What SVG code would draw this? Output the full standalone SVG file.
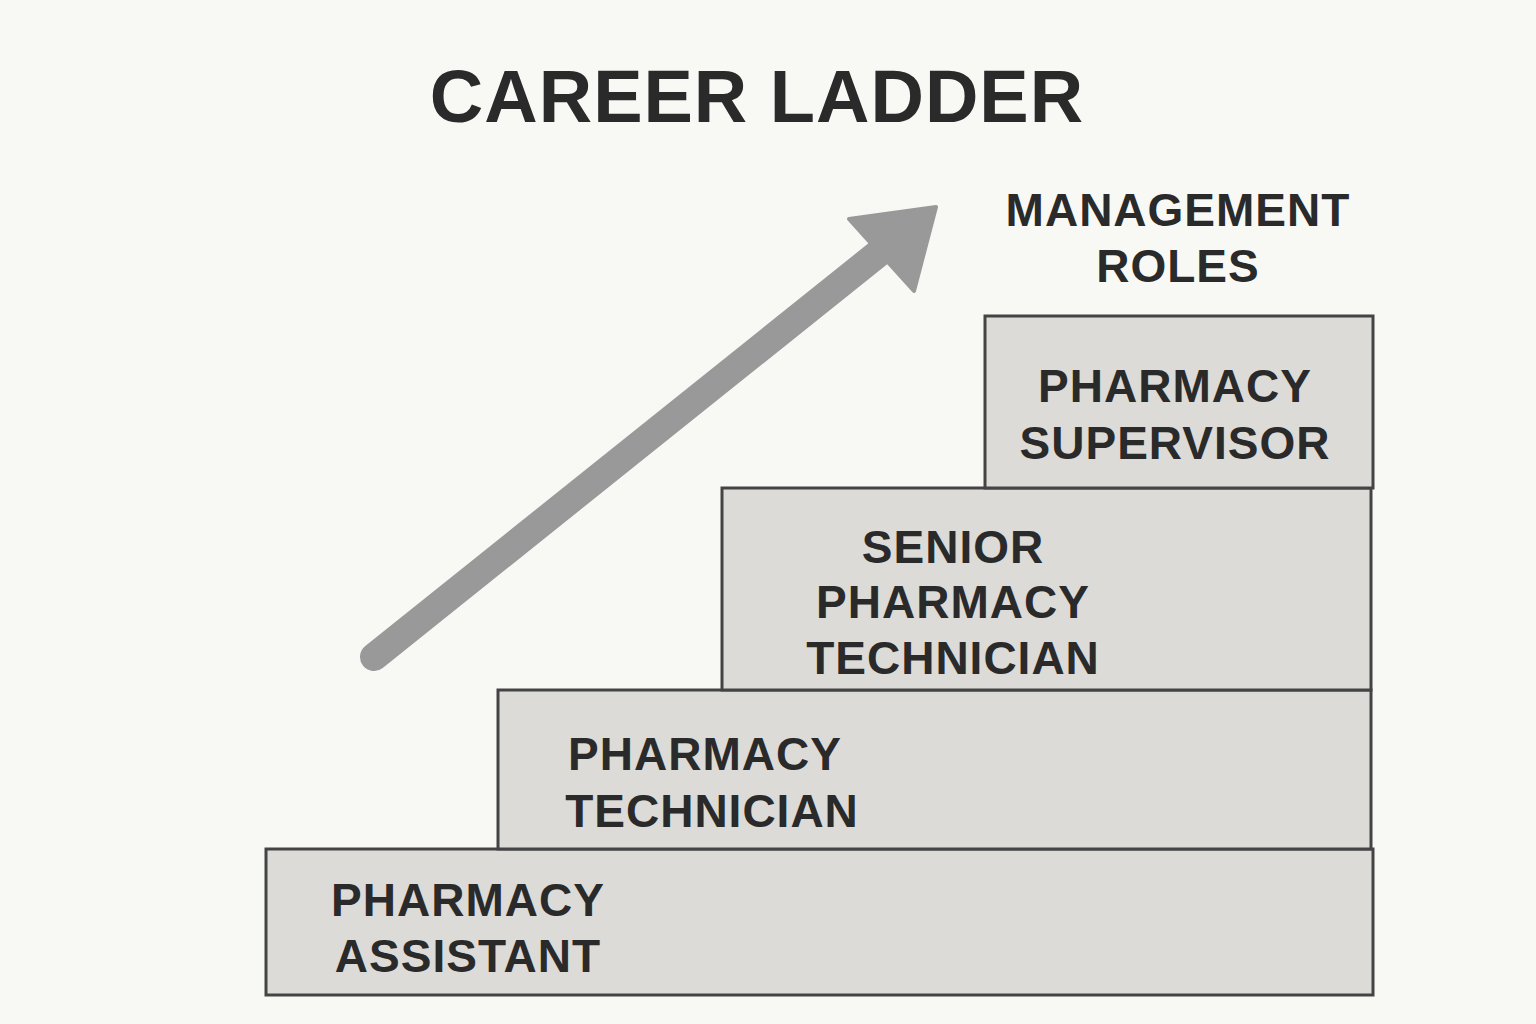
<svg xmlns="http://www.w3.org/2000/svg" width="1536" height="1024" viewBox="0 0 1536 1024">
<style>
.step{fill:#dcdbd8;stroke:#444;stroke-width:3}
.t{font-family:"Liberation Sans",Arial,sans-serif;font-weight:bold;font-size:46px;fill:#2a2a2a;text-anchor:middle;letter-spacing:1px}
</style>
<rect width="1536" height="1024" fill="#f8f8f5"/>
<text x="757" y="122" class="t" style="font-size:74px">CAREER LADDER</text>
<g id="connectors">
<line x1="374" y1="657" x2="880" y2="252" stroke="#999" stroke-width="28" stroke-linecap="round"/>
<polygon points="936,207 849,219 914,291" fill="#999" stroke="#999" stroke-width="4" stroke-linejoin="round"/>
</g>
<g id="assistant"><rect class="step" x="266" y="849" width="1107" height="146"/>
<text class="t" x="468" y="916">PHARMACY</text><text class="t" x="468" y="972">ASSISTANT</text></g>
<g id="technician"><rect class="step" x="498" y="690" width="873" height="159"/>
<text class="t" x="705" y="770">PHARMACY</text><text class="t" x="712" y="827">TECHNICIAN</text></g>
<g id="senior"><rect class="step" x="722" y="488" width="649" height="202"/>
<text class="t" x="953" y="563">SENIOR</text><text class="t" x="953" y="618">PHARMACY</text><text class="t" x="953" y="674">TECHNICIAN</text></g>
<g id="supervisor"><rect class="step" x="985" y="316" width="388" height="172"/>
<text class="t" x="1175" y="402">PHARMACY</text><text class="t" x="1175" y="459">SUPERVISOR</text></g>
<g id="management"><text class="t" x="1178" y="226">MANAGEMENT</text><text class="t" x="1178" y="282">ROLES</text></g>
</svg>
